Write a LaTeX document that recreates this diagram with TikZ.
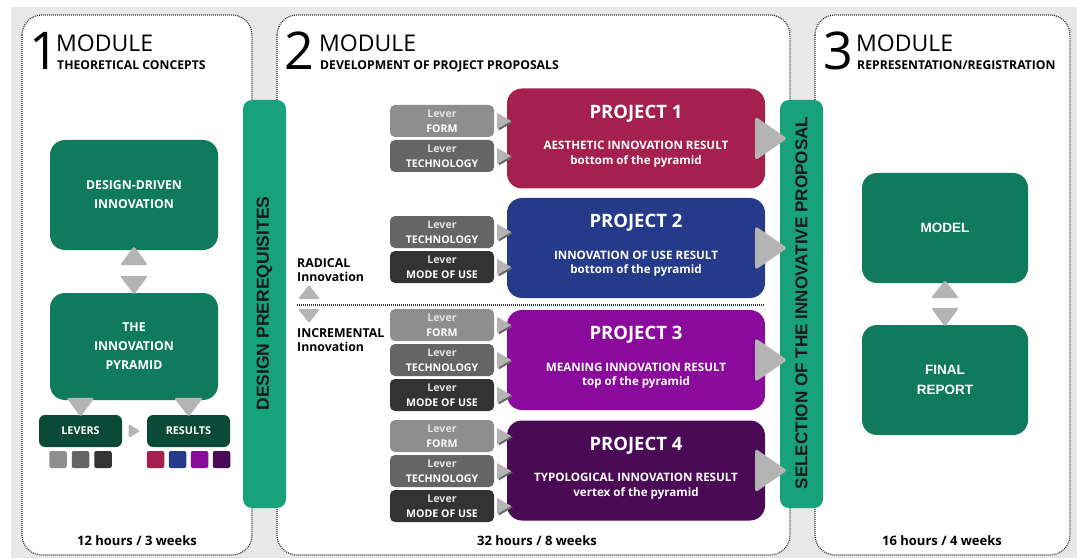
\documentclass[tikz,border=0pt]{standalone}
\usepackage{fontspec}
\setmainfont{Open Sans}
\newfontfamily\arialf{Liberation Sans}
\usetikzlibrary{calc}
\definecolor{bggray}{HTML}{E8E8E8}
\definecolor{mgreen}{HTML}{0F7A5C}
\definecolor{dgreen}{HTML}{0B4A36}
\definecolor{bgreen}{HTML}{17A27B}
\definecolor{pone}{HTML}{A5204F}
\definecolor{ptwo}{HTML}{253B8A}
\definecolor{pthree}{HTML}{8A0B9B}
\definecolor{pfour}{HTML}{4A0A56}
\definecolor{lvone}{HTML}{8E8E8E}
\definecolor{lvtwo}{HTML}{656565}
\definecolor{lvthree}{HTML}{333333}
\definecolor{arrgray}{HTML}{B4B4B4}
\definecolor{levtxt}{HTML}{E4E4E4}
\newcommand{\leverarrow}[1]{%
 \fill[black!60] ($(#1.east)+(4.5,-6.5)$) -- ($(#1.east)+(4.5,9.5)$) -- ($(#1.east)+(18.5,1.5)$) -- cycle;
 \fill[arrgray] ($(#1.east)+(3,-8)$) -- ($(#1.east)+(3,8)$) -- ($(#1.east)+(17,0)$) -- cycle;}
\newcommand{\bigarrow}[1]{%
 \fill[arrgray, rounded corners=3pt] ($(#1.east)+(-10,-22)$) -- ($(#1.east)+(-10,22)$) -- ($(#1.east)+(22,0)$) -- cycle;}
\tikzset{
 panel/.style={draw=black!80, line width=1.2pt, dash pattern=on 1pt off 1pt, rounded corners=20pt, fill=white},
 gbox/.style={fill=mgreen, rounded corners=15pt, minimum width=168pt, minimum height=#1, inner sep=0pt, align=center, text=white, font=\bfseries\fontsize{12.3}{19}\selectfont},
 abox/.style={fill=mgreen, rounded corners=15pt, minimum width=166pt, minimum height=110pt, inner sep=0pt, align=center, text=white, font=\arialf\bfseries\fontsize{13.5}{20}\selectfont},
 dbox/.style={fill=dgreen, rounded corners=6pt, minimum width=83pt, minimum height=32pt, inner sep=0pt, text=white, font=\bfseries\fontsize{10.8}{12}\selectfont},
 sq/.style={fill=#1, rounded corners=2pt, minimum width=17.5pt, minimum height=17pt, inner sep=0pt},
 bar/.style={fill=bgreen, rounded corners=9pt, minimum width=43pt, minimum height=408pt, inner sep=0pt},
 bartext/.style={rotate=90, text=black!90, font=\arialf\bfseries\fontsize{#1}{17}\selectfont, inner sep=0pt},
 lever/.style={fill=#1, rounded corners=5pt, minimum width=104pt, minimum height=32pt, inner sep=0pt, align=center, text=white, font=\bfseries\fontsize{10.6}{15}\selectfont},
 proj/.style={fill=#1, rounded corners=15pt, minimum width=258pt, minimum height=100pt, inner sep=0pt},
 ptitle/.style={text=white, font=\bfseries\fontsize{18.5}{20}\selectfont, inner sep=0pt},
 pdesc/.style={text=white, align=center, font=\bfseries\fontsize{11.6}{14.5}\selectfont, inner sep=0pt},
 tri/.style={fill=arrgray, rounded corners=1.5pt},
 digit/.style={anchor=base west, inner sep=0pt, font=\fontsize{52}{52}\selectfont},
 modt/.style={anchor=base west, inner sep=0pt, font=\fontsize{23}{23}\selectfont},
 subt/.style={anchor=base west, inner sep=0pt, font=\bfseries\fontsize{12.2}{12}\selectfont},
 hours/.style={inner sep=0pt, font=\bfseries\fontsize{13}{14}\selectfont},
 kind/.style={anchor=west, inner sep=0pt, align=left, font=\bfseries\fontsize{12.3}{14.5}\selectfont}
}
\begin{document}
\begin{tikzpicture}[x=1pt,y=-1pt]
\useasboundingbox (0,0) rectangle (1077,559);
\fill[white] (0,0) rectangle (1077,559);
\fill[bggray] (11,7) rectangle (1077,558);
% panels
\draw[panel] (22,15) rectangle (252,555);
\draw[panel] (277,15) rectangle (790,555);
\draw[panel] (815,15) rectangle (1070,555);
% headings
\node[digit] (d1) at (29,70) {1};
\node[modt] (m1) at (56,52) {MODULE};
\node[subt] (s1) at (57,70) {THEORETICAL CONCEPTS};
\node[digit] (d2) at (284,70) {2};
\node[modt] (m2) at (319,52) {MODULE};
\node[subt] (s2) at (320,70) {DEVELOPMENT OF PROJECT PROPOSALS};
\node[digit] (d3) at (823,70) {3};
\node[modt] (m3) at (856,52) {MODULE};
\node[subt] (s3) at (857,70) {REPRESENTATION/REGISTRATION};
% module 1
\node[gbox=110pt] (ddi) at (134,195) {DESIGN-DRIVEN\\INNOVATION};
\node[gbox=107pt] (pyr) at (134,346.5) {THE\\INNOVATION\\PYRAMID};
\fill[tri] ($(ddi.south)+(0,-4)$) -- ($(ddi.south)+(14,15)$) -- ($(ddi.south)+(-14,15)$) -- cycle;
\fill[tri] ($(pyr.north)+(-14,-17)$) -- ($(pyr.north)+(14,-17)$) -- ($(pyr.north)+(0,2)$) -- cycle;
\node[dbox] (lev) at (80.5,431) {LEVERS};
\node[dbox] (res) at (188.5,431) {RESULTS};
\fill[tri] ($(lev.north)+(-14,-17)$) -- ($(lev.north)+(14,-17)$) -- ($(lev.north)+(0,2)$) -- cycle;
\fill[tri] ($(res.north)+(-14.5,-17)$) -- ($(res.north)+(14.5,-17)$) -- ($(res.north)+(0,2)$) -- cycle;
\fill[tri] ($(lev.east)+(6.5,-7)$) -- ($(lev.east)+(6.5,7)$) -- ($(lev.east)+(18,0)$) -- cycle;
\node[sq=lvone] (g1) at (58,459.5) {};
\node[sq=lvtwo] (g2) at (80.5,459.5) {};
\node[sq=lvthree] (g3) at (103,459.5) {};
\node[sq=pone] (r1) at (155.5,459.5) {};
\node[sq=ptwo] (r2) at (177.5,459.5) {};
\node[sq=pthree] (r3) at (199.5,459.5) {};
\node[sq=pfour] (r4) at (221.5,459.5) {};
\node[hours] (h1) at (137,541) {12 hours / 3 weeks};
% bars
\node[bar] (dp) at (264.5,304) {};
\node[bartext=17.5] (dpt) at (264.5,303.5) {DESIGN PREREQUISITES};
\node[bar] (sel) at (801.5,304) {};
\node[bartext=17.1] (selt) at (801.5,303) {SELECTION OF THE INNOVATIVE PROPOSAL};
% module 2 projects
\node[proj=pone] (p1) at (636,138.5) {};
\node[proj=ptwo] (p2) at (636,248) {};
\node[proj=pthree] (p3) at (636,360) {};
\node[proj=pfour] (p4) at (636,470.5) {};
\node[ptitle] (t1) at ($(p1.north)+(0,25)$) {PROJECT 1};
\node[pdesc] (e1) at ($(p1.north)+(0,66)$) {AESTHETIC INNOVATION RESULT\\bottom of the pyramid};
\node[ptitle] (t2) at ($(p2.north)+(0,25)$) {PROJECT 2};
\node[pdesc] (e2) at ($(p2.north)+(0,66)$) {INNOVATION OF USE RESULT\\bottom of the pyramid};
\node[ptitle] (t3) at ($(p3.north)+(0,25)$) {PROJECT 3};
\node[pdesc] (e3) at ($(p3.north)+(0,66)$) {MEANING INNOVATION RESULT\\top of the pyramid};
\node[ptitle] (t4) at ($(p4.north)+(0,25)$) {PROJECT 4};
\node[pdesc] (e4) at ($(p4.north)+(0,66)$) {TYPOLOGICAL INNOVATION RESULT\\vertex of the pyramid};
% levers
\node[lever=lvone] (l11) at (442,121) {{\color{levtxt}Lever}\\FORM};
\node[lever=lvtwo] (l12) at (442,156) {{\color{levtxt}Lever}\\TECHNOLOGY};
\node[lever=lvtwo] (l21) at (442,232) {{\color{levtxt}Lever}\\TECHNOLOGY};
\node[lever=lvthree] (l22) at (442,267) {{\color{levtxt}Lever}\\MODE OF USE};
\node[lever=lvone] (l31) at (442,325) {{\color{levtxt}Lever}\\FORM};
\node[lever=lvtwo] (l32) at (442,360) {{\color{levtxt}Lever}\\TECHNOLOGY};
\node[lever=lvthree] (l33) at (442,395) {{\color{levtxt}Lever}\\MODE OF USE};
\node[lever=lvone] (l41) at (442,436) {{\color{levtxt}Lever}\\FORM};
\node[lever=lvtwo] (l42) at (442,471) {{\color{levtxt}Lever}\\TECHNOLOGY};
\node[lever=lvthree] (l43) at (442,506) {{\color{levtxt}Lever}\\MODE OF USE};
\foreach \l in {l11,l12,l21,l22,l31,l32,l33,l41,l42,l43} {\leverarrow{\l}}
\foreach \p in {p1,p2,p3,p4} {\bigarrow{\p}}
% radical / incremental
\node[kind] (rad) at (297,270) {RADICAL\\Innovation};
\node[kind] (inc) at (297,340) {INCREMENTAL\\Innovation};
\coordinate (dl) at (297,305);
\coordinate (dr) at (765,305);
\draw[black!80, line width=1.2pt, dash pattern=on 1pt off 1pt] (dl) -- (dr);
\fill[tri] (309,285) -- (320,299) -- (298,299) -- cycle;
\fill[tri] (298,309) -- (320,309) -- (309,323) -- cycle;
\node[hours] (h2) at (537,541) {32 hours / 8 weeks};
% module 3
\node[abox] (model) at (945,228) {MODEL};
\node[abox] (final) at (945,380) {FINAL\\REPORT};
\fill[tri] ($(model.south)+(0,-3)$) -- ($(model.south)+(14,15)$) -- ($(model.south)+(-14,15)$) -- cycle;
\fill[tri] ($(final.north)+(-14,-17)$) -- ($(final.north)+(14,-17)$) -- ($(final.north)+(0,2)$) -- cycle;
\node[hours] (h3) at (942,541) {16 hours / 4 weeks};
\end{tikzpicture}
\end{document}
